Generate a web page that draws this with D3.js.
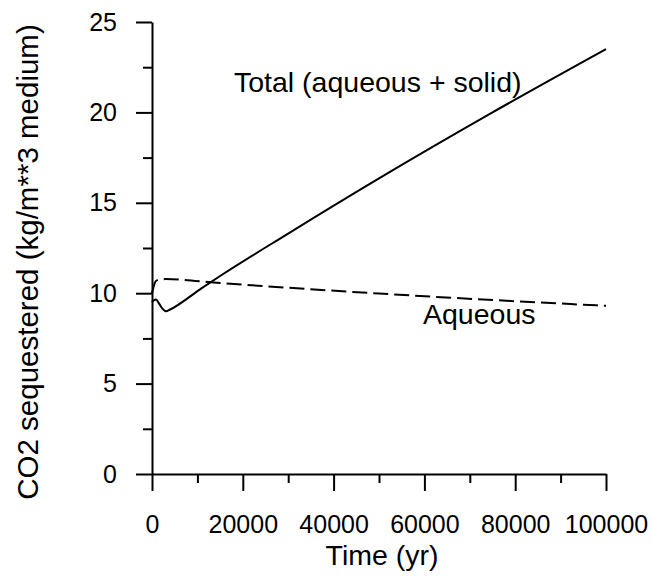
<!DOCTYPE html>
<meta charset="utf-8">
<style>
body { margin: 0; background: #fff; }
text { font-family: "Liberation Sans", Arial, sans-serif; fill: #000; }
.axis path, .axis line { stroke: #000; stroke-width: 2; }
.axis text { font-size: 25px; }
</style>
<body>
<div id="chart"></div>
<script src="https://d3js.org/d3.v7.min.js"></script>
<script>
// values
var totalYears  = [0, 400, 900, 1500, 2300, 3100, 4000, 10500, 15000, 30000, 50000, 75000, 100000];
var totalValues = [9.5, 9.6, 9.65, 9.45, 9.15, 9.0, 9.1, 10.2, 10.95, 13.3, 16.35, 20.0, 23.5];

var aqueousYears  = [0, 300, 800, 1500, 3000, 15000, 50000, 100000];
var aqueousValues = [10.0, 10.3, 10.65, 10.75, 10.78, 10.56, 9.98, 9.3];

var xMajor = [0, 20000, 40000, 60000, 80000, 100000];
var xMinor = [10000, 30000, 50000, 70000, 90000];
var yMajor = [0, 5, 10, 15, 20, 25];
var yMinor = [2.5, 7.5, 12.5, 17.5, 22.5];

var width = 654, height = 577;

var svg = d3.select("#chart").append("svg")
    .attr("width", width)
    .attr("height", height);

var x = d3.scaleLinear()
    .domain([0, 100000])
    .range([152, 606]);

var y = d3.scaleLinear()
    .domain([0, 25])
    .range([474, 22]);

// minor ticks first, majors drawn over them
svg.append("g")
    .attr("class", "axis")
    .attr("transform", "translate(0,474)")
    .call(d3.axisBottom(x).tickValues(xMinor).tickSize(9).tickFormat(""))
    .select(".domain").remove();

svg.append("g")
    .attr("class", "axis")
    .attr("transform", "translate(152,0)")
    .call(d3.axisLeft(y).tickValues(yMinor).tickSize(9).tickFormat(""))
    .select(".domain").remove();

svg.append("g")
    .attr("class", "axis")
    .attr("transform", "translate(0,474)")
    .call(d3.axisBottom(x).tickValues(xMajor).tickSize(17).tickSizeOuter(0).tickPadding(24)
      .tickFormat(d3.format("d")));

svg.append("g")
    .attr("class", "axis")
    .attr("transform", "translate(152,0)")
    .call(d3.axisLeft(y).tickValues(yMajor).tickSize(16).tickSizeOuter(0).tickPadding(19));

var line = d3.line()
    .x(function(d) { return x(d[0]); })
    .y(function(d) { return y(d[1]); })
    .curve(d3.curveMonotoneX);

svg.append("path")
    .datum(d3.zip(totalYears, totalValues))
    .attr("d", line)
    .attr("fill", "none")
    .attr("stroke", "#000")
    .attr("stroke-width", 2);

svg.append("path")
    .datum(d3.zip(aqueousYears, aqueousValues))
    .attr("d", line)
    .attr("fill", "none")
    .attr("stroke", "#000")
    .attr("stroke-width", 2)
    .attr("stroke-dasharray", "15,6");

svg.append("text")
    .attr("x", 234)
    .attr("y", 92)
    .style("font-size", "28.5px")
    .text("Total (aqueous + solid)");

svg.append("text")
    .attr("x", 423)
    .attr("y", 324)
    .style("font-size", "28.5px")
    .text("Aqueous");

svg.append("text")
    .attr("x", 382)
    .attr("y", 565)
    .attr("text-anchor", "middle")
    .style("font-size", "28.5px")
    .text("Time (yr)");

svg.append("text")
    .attr("transform", "translate(38,262) rotate(-90)")
    .attr("text-anchor", "middle")
    .style("font-size", "29.5px")
    .text("CO2 sequestered (kg/m**3 medium)");
</script>
</body>
